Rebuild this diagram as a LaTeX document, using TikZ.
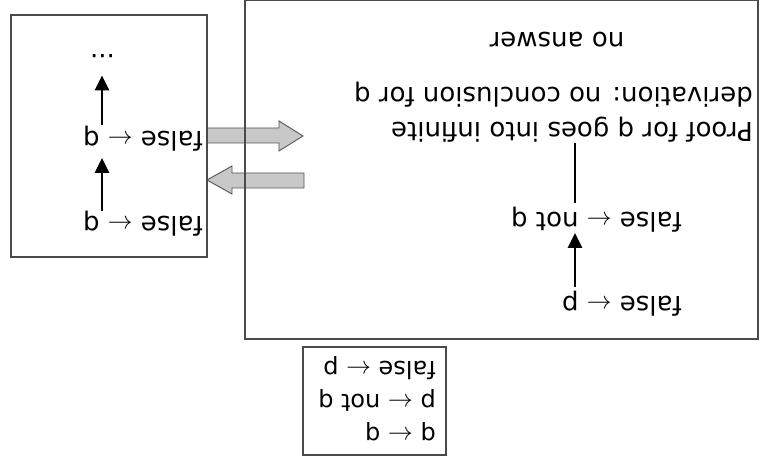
\documentclass[tikz,border=0pt]{standalone}
\usepackage{fontspec}
\setmainfont{DejaVu Sans}
\usetikzlibrary{arrows.meta}
\definecolor{framegray}{HTML}{4A4A4A}
\definecolor{arrowfill}{HTML}{C8C8C8}
\definecolor{arrowedge}{HTML}{555555}
\begin{document}
\begin{tikzpicture}[x=1pt,y=-1pt,
  txt/.style={rotate=180, inner sep=0pt, anchor=base west,
              font=\fontsize{26}{32}\selectfont},
  smalltxt/.style={txt, font=\fontsize{24}{30}\selectfont},
  frame/.style={draw=framegray, line width=1.2pt},
  blockarrow/.style={draw=arrowedge, fill=arrowfill, line width=0.9pt, line join=miter},
  deriv/.style={line width=2.5pt, -{Triangle[length=15pt,width=14pt]}},
  plainlink/.style={line width=2.5pt}]

% canvas
\fill[white] (0,0) rectangle (763,462);
\useasboundingbox (0,0) rectangle (763,462);

% wide grey arrows between the two panels
\draw[blockarrow] (207,128) -- (279,128) -- (279,121) -- (303,136)
  -- (279,151) -- (279,143) -- (207,143) -- cycle;
\draw[blockarrow] (304,173) -- (232,173) -- (232,166) -- (207,180)
  -- (232,194) -- (232,188) -- (304,188) -- cycle;

% panel frames
\draw[frame] (11,15) rectangle (207,257);
\draw[frame] (245,0.6) rectangle (758,339);
\draw[frame] (303,347) rectangle (446,455);

% left panel: looping derivation
\node[txt] (lb) at (203,217) {false $\leftarrow$ q};
\node[txt] (lm) at (203,132) {false $\leftarrow$ q};
\node[txt] (ld) at (115,55) {...};
\coordinate (lx) at (102,0);
\draw[deriv, shorten >=6pt] (lb.south -| lx) -- (lm.north -| lx);
\draw[deriv, shorten <=1.5pt, shorten >=17pt] (lm.south -| lx) -- (ld.north -| lx);

% right panel: failing derivation
\node[txt] (rp) at (682,297) {false $\leftarrow$ p};
\node[txt] (rn) at (682,213) {false $\leftarrow$ not q};
\node[txt] (r1) at (753,123) {Proof for q goes into infinite};
\node[txt] (r2) at (753,88) {derivation: no conclusion for q};
\node[txt, anchor=base] (na) at (557,33) {no answer};
\coordinate (rx) at (575,0);
\draw[deriv, shorten <=4pt] (rp.south -| rx) -- (rn.north -| rx);
\draw[plainlink, shorten <=4pt] (rn.south -| rx) -- (r1.north -| rx);

% program clauses
\node[smalltxt] (s1) at (436,361) {false $\leftarrow$ p};
\node[smalltxt] (s2) at (436,394) {p $\leftarrow$ not q};
\node[smalltxt] (s3) at (436,427) {q $\leftarrow$ q};
\end{tikzpicture}
\end{document}
